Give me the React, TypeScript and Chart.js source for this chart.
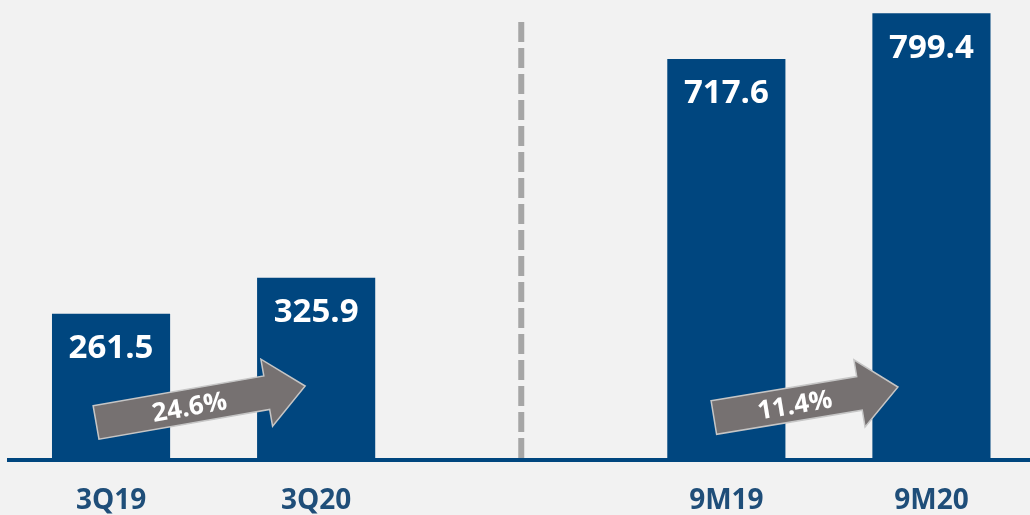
import React, { useEffect, useRef } from 'react';
import { Chart, registerables } from 'chart.js';

Chart.register(...registerables);

// ---- data ----
const CATEGORIES = ['3Q19', '3Q20', '', '9M19', '9M20'];
const VALUES: (number | null)[] = [261.5, 325.9, null, 717.6, 799.4];
const VALUE_LABELS = ['261.5', '325.9', '', '717.6', '799.4'];
const ARROW_FROM = [0, 3];
const ARROW_TO = [1, 4];
const ARROW_LABELS = ['24.6%', '11.4%'];
const DIVIDER_INDEX = 2;
const Y_MIN = 0;
const Y_MAX = 823;

// ---- annotation geometry (offsets from bar centre / baseline) ----
const ARROW_GEOM = [
  { tail: [-15, 37.5], tip: [-11, 74] },
  { tail: [-12.5, 42.5], tip: [-33.5, 73] },
];

const BAR_COLOR = '#00467f';
const LABEL_COLOR = '#1f4e79';
const BG = '#f2f2f2';
const FONT = '"Open Sans", "DejaVu Sans", sans-serif';

function drawArrow(ctx: CanvasRenderingContext2D, x0: number, y0: number, x1: number, y1: number, label: string) {
  const dx = x1 - x0;
  const dy = y1 - y0;
  const L = Math.hypot(dx, dy);
  const ang = Math.atan2(dy, dx);
  const bh = 17;
  const hh = 34;
  const hl = 39;
  ctx.save();
  ctx.translate(x0, y0);
  ctx.rotate(ang);
  ctx.beginPath();
  ctx.moveTo(0, -bh);
  ctx.lineTo(L - hl, -bh);
  ctx.lineTo(L - hl, -hh);
  ctx.lineTo(L, 0);
  ctx.lineTo(L - hl, hh);
  ctx.lineTo(L - hl, bh);
  ctx.lineTo(0, bh);
  ctx.closePath();
  ctx.fillStyle = '#767171';
  ctx.fill();
  ctx.lineWidth = 1.5;
  ctx.strokeStyle = '#c6c6c6';
  ctx.stroke();
  ctx.fillStyle = '#ffffff';
  ctx.font = `bold 26px ${FONT}`;
  ctx.textAlign = 'center';
  ctx.textBaseline = 'middle';
  ctx.fillText(label, (L - hl) / 2 + 8, 2);
  ctx.restore();
}

const overlayPlugin = {
  id: 'overlay',
  beforeDraw(chart: any) {
    const ctx = chart.ctx as CanvasRenderingContext2D;
    ctx.save();
    ctx.fillStyle = BG;
    ctx.fillRect(0, 0, chart.width, chart.height);
    ctx.restore();
  },
  afterDatasetsDraw(chart: any) {
    const ctx = chart.ctx as CanvasRenderingContext2D;
    const xs = chart.scales.x;
    const ys = chart.scales.y;
    const base = ys.getPixelForValue(0);

    // dashed divider
    const dxp = xs.getPixelForValue(DIVIDER_INDEX);
    ctx.save();
    ctx.strokeStyle = '#a6a6a6';
    ctx.lineWidth = 6;
    ctx.setLineDash([20, 6]);
    ctx.beginPath();
    ctx.moveTo(dxp, chart.chartArea.top + 22);
    ctx.lineTo(dxp, base);
    ctx.stroke();
    ctx.restore();

    // value labels
    const meta = chart.getDatasetMeta(0);
    ctx.save();
    ctx.fillStyle = '#ffffff';
    ctx.font = `bold 33px ${FONT}`;
    ctx.textAlign = 'center';
    ctx.textBaseline = 'middle';
    meta.data.forEach((bar: any, i: number) => {
      if (!VALUE_LABELS[i] || VALUES[i] == null) return;
      ctx.fillText(VALUE_LABELS[i], bar.x, bar.y + 35);
    });
    ctx.restore();

    // growth arrows
    ARROW_LABELS.forEach((lab, k) => {
      const g = ARROW_GEOM[k];
      const cx0 = xs.getPixelForValue(ARROW_FROM[k]);
      const cx1 = xs.getPixelForValue(ARROW_TO[k]);
      drawArrow(ctx, cx0 + g.tail[0], base - g.tail[1], cx1 + g.tip[0], base - g.tip[1], lab);
    });
  },
};

export default function App() {
  const ref = useRef<HTMLCanvasElement | null>(null);

  useEffect(() => {
    if (!ref.current) return;
    const chart = new Chart(ref.current, {
      type: 'bar',
      data: {
        labels: CATEGORIES,
        datasets: [
          {
            data: VALUES as any,
            backgroundColor: BAR_COLOR,
            borderWidth: 0,
            categoryPercentage: 1,
            barPercentage: 0.576,
          },
        ],
      },
      options: {
        animation: false,
        responsive: false,
        devicePixelRatio: 1,
        layout: { padding: { left: 8.5, right: 6, top: 0, bottom: 0 } },
        plugins: { legend: { display: false }, tooltip: { enabled: false } },
        scales: {
          x: {
            afterFit: (scale: any) => {
              scale.height = 55;
            },
            grid: { display: true, drawOnChartArea: false, drawTicks: false, color: 'rgba(0,0,0,0)' },
            border: { display: true, color: BAR_COLOR, width: 4 },
            ticks: {
              color: LABEL_COLOR,
              font: { family: FONT, size: 28, weight: 'bold' },
              padding: 24,
              autoSkip: false,
              maxRotation: 0,
            },
          },
          y: {
            display: false,
            min: Y_MIN,
            max: Y_MAX,
          },
        },
      } as any,
      plugins: [overlayPlugin],
    });
    return () => chart.destroy();
  }, []);

  return (
    <div
      style={{
        position: 'fixed',
        left: 0,
        top: 0,
        width: 1030,
        height: 515,
        overflow: 'hidden',
        background: BG,
      }}
    >
      <canvas ref={ref} width={1040} height={515} style={{ display: 'block' }} />
    </div>
  );
}
